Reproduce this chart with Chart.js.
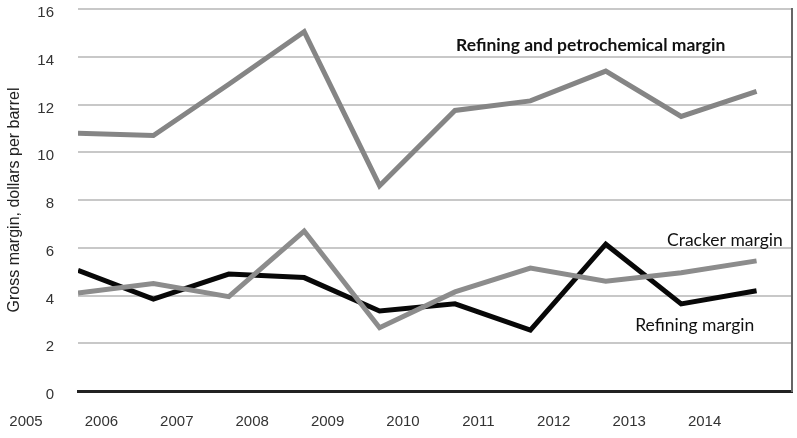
<!DOCTYPE html>
<html>
<head>
<meta charset="utf-8">
<script src="https://cdn.jsdelivr.net/npm/chart.js@4.4.1/dist/chart.umd.min.js"></script>
<style>
  html, body { margin: 0; padding: 0; background: #fff; }
  #wrap { width: 797px; height: 438px; }
</style>
</head>
<body>
<div id="wrap"><canvas id="chart"></canvas></div>
<script>
const years = [2005, 2006, 2007, 2008, 2009, 2010, 2011, 2012, 2013, 2014];
const refiningPetrochem = [10.8, 10.7, 12.85, 15.05, 8.6, 11.75, 12.15, 13.4, 11.5, 12.55];
const crackerMargin = [4.1, 4.5, 3.95, 6.7, 2.65, 4.15, 5.15, 4.6, 4.95, 5.45];
const refiningMargin = [5.05, 3.85, 4.9, 4.75, 3.35, 3.65, 2.55, 6.15, 3.65, 4.2];

const toPoints = (vals) => vals.map((v, i) => ({ x: years[i], y: v }));

// text labels placed next to the lines, in data coordinates
const lineLabels = [
  { text: "Refining and petrochemical margin", x: 2011.8, y: 14.47, bold: true },
  { text: "Cracker margin", x: 2013.58, y: 6.29, bold: false },
  { text: "Refining margin", x: 2013.18, y: 2.77, bold: false }
];

const lineLabelPlugin = {
  id: "lineLabels",
  afterDatasetsDraw(chart) {
    const { ctx, scales } = chart;
    ctx.save();
    ctx.fillStyle = "#111";
    ctx.textAlign = "center";
    ctx.textBaseline = "middle";
    lineLabels.forEach(l => {
      ctx.font = (l.bold ? "bold " : "") + "17.5px Lato";
      ctx.fillText(l.text, scales.x.getPixelForValue(l.x), scales.y.getPixelForValue(l.y));
    });
    ctx.restore();
  }
};

new Chart(document.getElementById("chart"), {
  type: "line",
  data: {
    datasets: [
      {
        label: "Refining and petrochemical margin",
        data: toPoints(refiningPetrochem),
        borderColor: "#858585",
        borderWidth: 5
      },
      {
        label: "Cracker margin",
        data: toPoints(crackerMargin),
        borderColor: "#8c8c8c",
        borderWidth: 5
      },
      {
        label: "Refining margin",
        data: toPoints(refiningMargin),
        borderColor: "#080808",
        borderWidth: 5
      }
    ]
  },
  options: {
    responsive: true,
    maintainAspectRatio: false,
    animation: false,
    elements: {
      point: { radius: 0 },
      line: { tension: 0, borderJoinStyle: "miter", borderCapStyle: "butt" }
    },
    layout: { padding: { top: 9, right: 5, left: 5, bottom: 0 } },
    plugins: {
      legend: { display: false },
      tooltip: { enabled: false }
    },
    scales: {
      x: {
        type: "linear",
        min: 2005,
        max: 2014.47,
        grid: { display: false, drawTicks: false },
        border: { display: true, color: "#222", width: 3 },
        ticks: {
          stepSize: 1,
          includeBounds: false,
          padding: 22,
          labelOffset: -52,
          color: "#333",
          font: { family: "Liberation Sans", size: 15 },
          callback: (v) => String(v)
        },
        afterFit: (s) => { s.height = 47; s.paddingLeft = 0; s.paddingRight = 0; }
      },
      y: {
        min: 0,
        max: 16,
        grid: { color: "#c8c8c8", lineWidth: 2, drawTicks: false },
        border: { display: false },
        ticks: {
          stepSize: 2,
          padding: 24,
          labelOffset: 4,
          color: "#333",
          font: { family: "Liberation Sans", size: 15 }
        },
        title: {
          display: true,
          text: "Gross margin, dollars per barrel",
          color: "#222",
          padding: { top: 0, bottom: 3 },
          font: { family: "Liberation Sans", size: 16 }
        },
        afterFit: (s) => { s.width = 73; s.paddingTop = 0; s.paddingBottom = 0; }
      },
      frame: {
        position: "right",
        min: 0,
        max: 16,
        grid: { display: false, drawTicks: false },
        border: { display: true, color: "#666", width: 2 },
        ticks: { display: false },
        afterFit: (s) => { s.width = 0; s.paddingTop = 0; s.paddingBottom = 0; }
      }
    }
  },
  plugins: [lineLabelPlugin]
});
</script>
</body>
</html>
